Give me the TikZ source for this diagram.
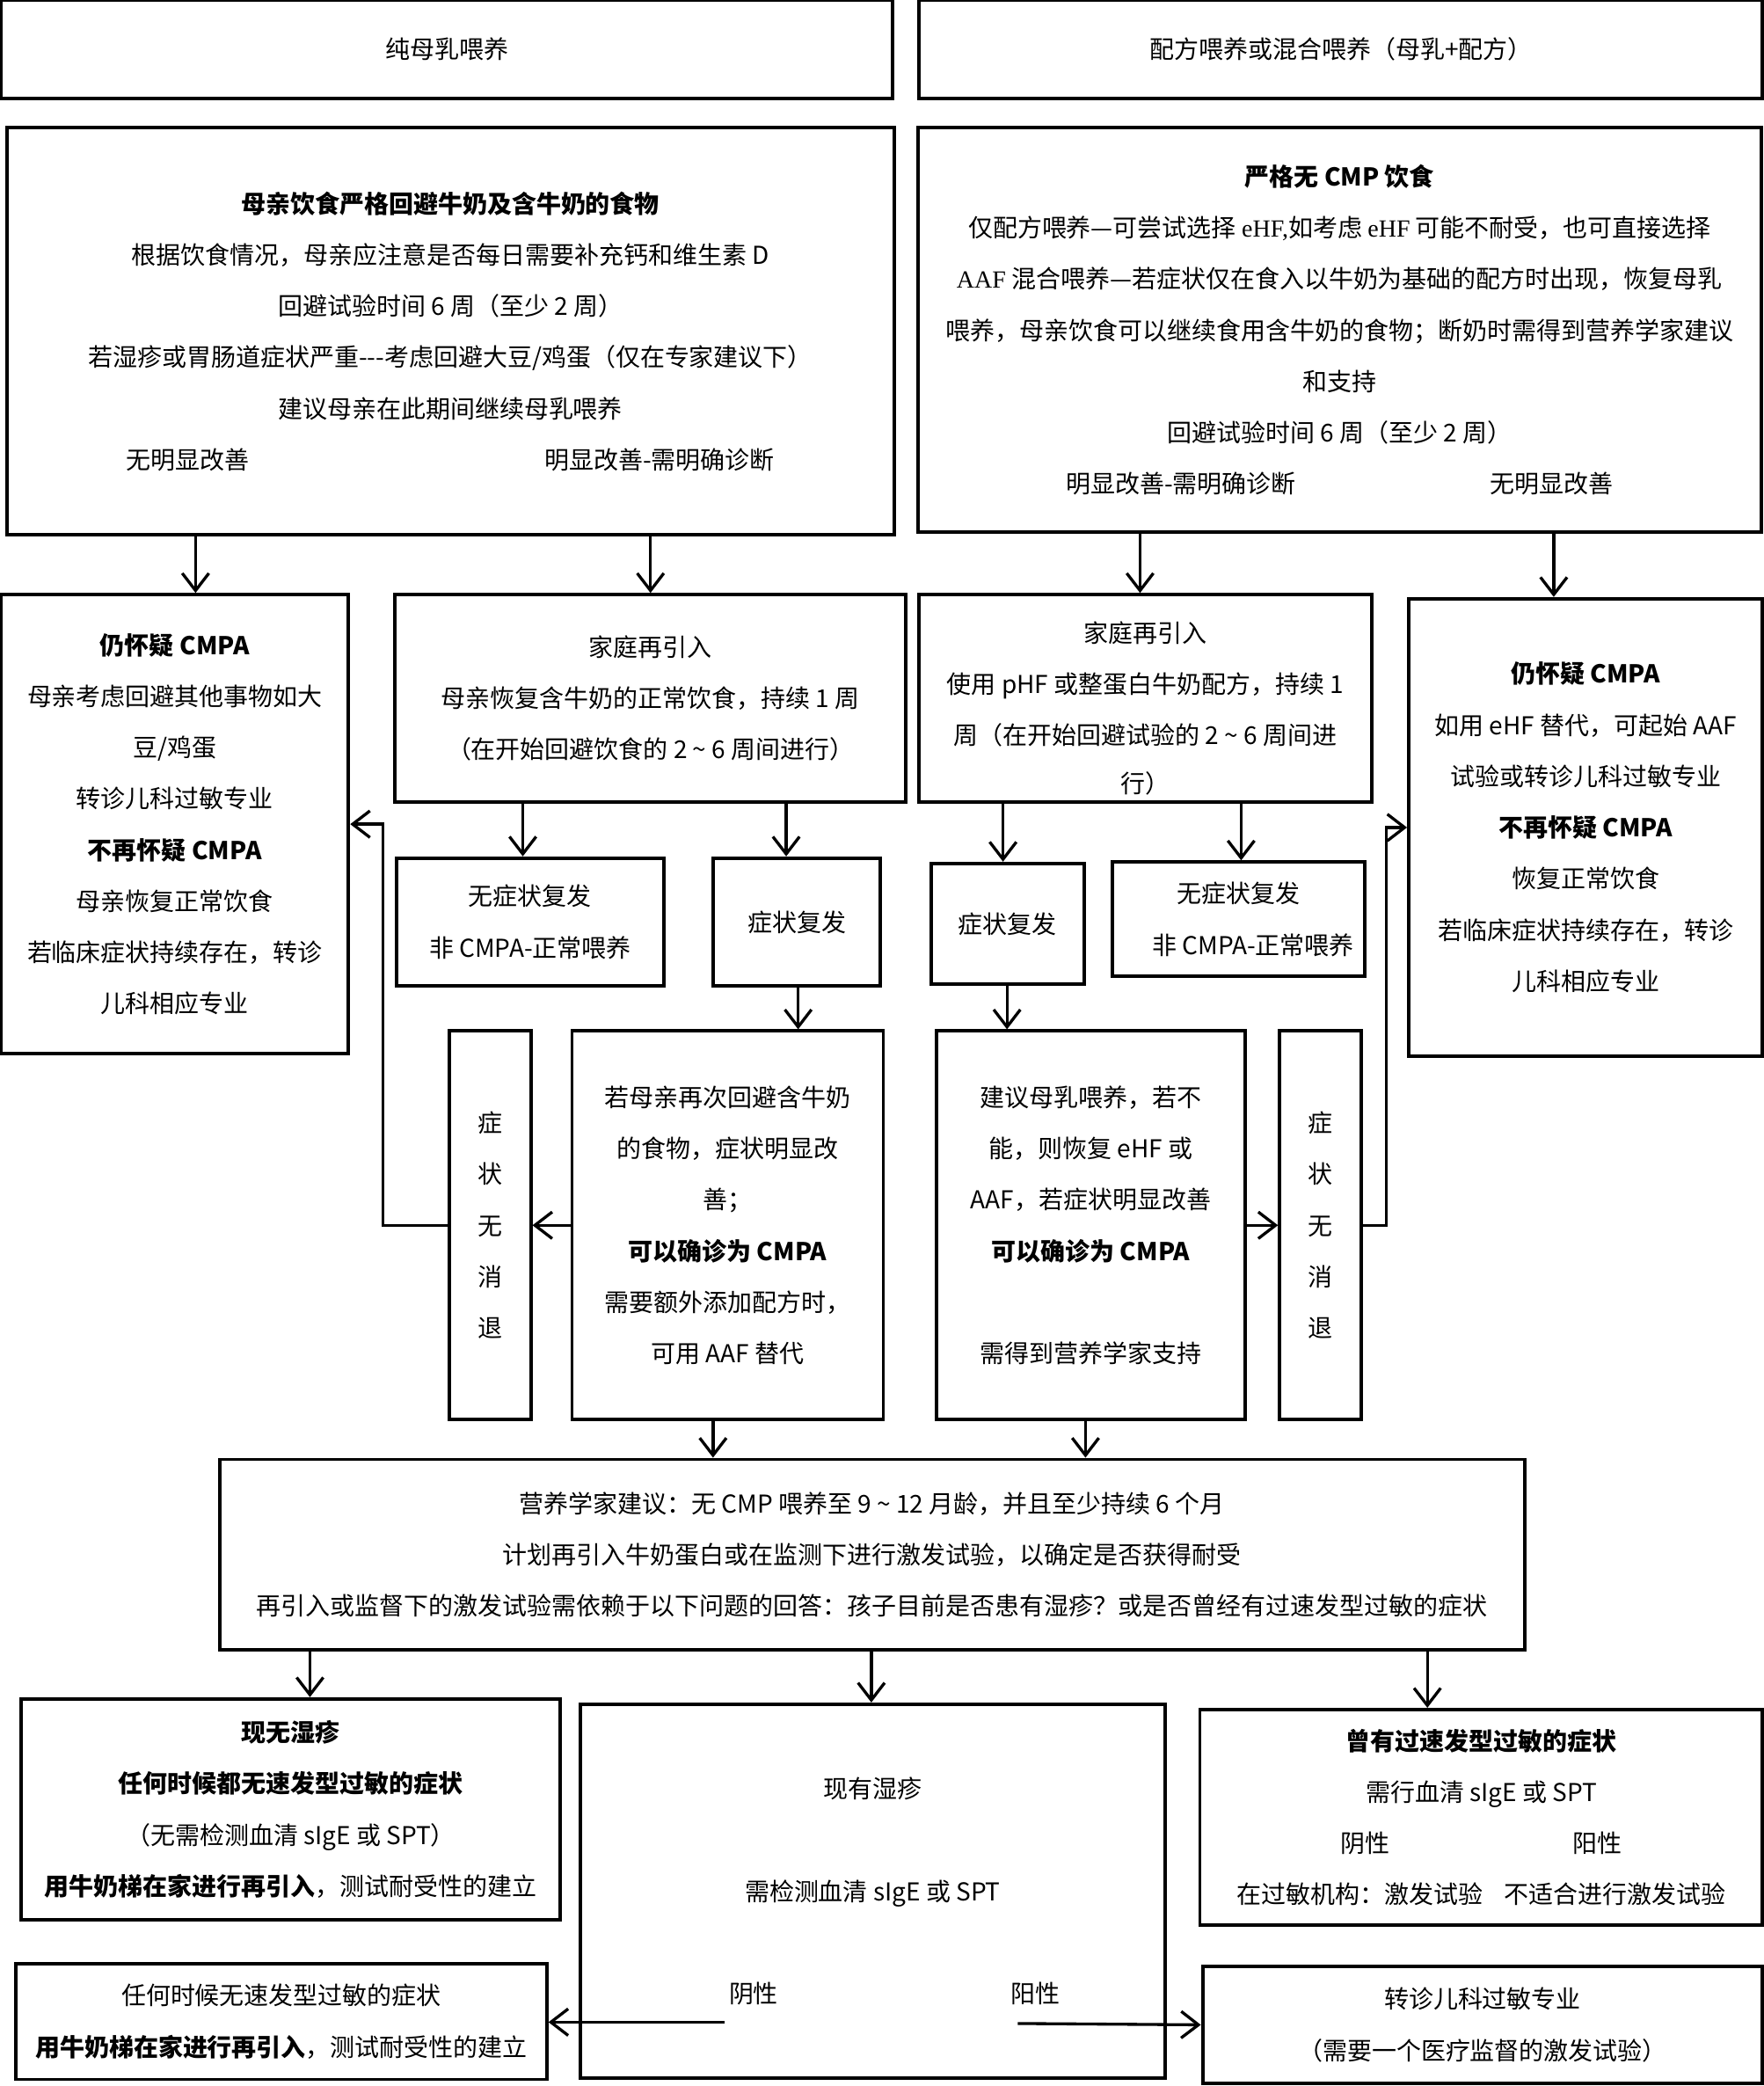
\documentclass[tikz,border=0pt]{standalone}
\usepackage{fontspec}
\setmainfont{Noto Sans CJK SC}
\newfontfamily\lserif{Liberation Serif}
\usepackage{tikz}
\usetikzlibrary{arrows.meta}

\begin{document}
\begin{tikzpicture}[x=1pt, y=-1pt]
\tikzstyle{box}=[draw, rectangle, line width=2.6pt, inner sep=0pt, align=center, font=\fontsize{18.5}{38.5}\selectfont]
\tikzstyle{arr}=[line width=2.2pt, -{Straight Barb[length=13pt, width=20pt]}]
\useasboundingbox (0,0) rectangle (1326,1568);

\node[box, minimum width=670pt, minimum height=74pt] (bfhead) at (336,37) {纯母乳喂养};
\node[box, minimum width=634pt, minimum height=74pt] (fmhead) at (1008,37) {配方喂养或混合喂养（母乳+配方）};

\node[box, minimum width=667pt, minimum height=306pt] (bfdiet) at (338.5,249) {\textbf{母亲饮食严格回避牛奶及含牛奶的食物}\\
根据饮食情况，母亲应注意是否每日需要补充钙和维生素 D\\
回避试验时间 6 周（至少 2 周）\\
若湿疹或胃肠道症状严重-{}-{}-考虑回避大豆/鸡蛋（仅在专家建议下）\\
建议母亲在此期间继续母乳喂养\\
无明显改善\hspace{222pt}明显改善-需明确诊断};
\node[box, minimum width=634pt, minimum height=304pt] (fmdiet) at (1007,248) {\textbf{严格无 CMP 饮食}\\
仅配方喂养—可尝试选择 {\lserif eHF,}如考虑 {\lserif eHF} 可能不耐受，也可直接选择\\
{\lserif AAF} 混合喂养—若症状仅在食入以牛奶为基础的配方时出现，恢复母乳\\
喂养，母亲饮食可以继续食用含牛奶的食物；断奶时需得到营养学家建议\\
和支持\\
回避试验时间 6 周（至少 2 周）\\
明显改善-需明确诊断\hspace{146pt}无明显改善};

\node[box, minimum width=261pt, minimum height=345pt] (bfstill) at (131.5,619.5) {\textbf{仍怀疑 CMPA}\\
母亲考虑回避其他事物如大\\
豆/鸡蛋\\
转诊儿科过敏专业\\
\textbf{不再怀疑 CMPA}\\
母亲恢复正常饮食\\
若临床症状持续存在，转诊\\
儿科相应专业};
\node[box, minimum width=384pt, minimum height=156pt] (bfhome) at (489,525) {家庭再引入\\
母亲恢复含牛奶的正常饮食，持续 1 周\\
（在开始回避饮食的 2 \textasciitilde{} 6 周间进行）};
\node[box, minimum width=340pt, minimum height=156pt] (fmhome) at (861,525) {\rule{0pt}{30pt}家庭再引入\\
使用 pHF 或整蛋白牛奶配方，持续 1\\
周（在开始回避试验的 2 \textasciitilde{} 6 周间进\\[-2.5pt]
行）};
\node[box, minimum width=266pt, minimum height=344pt] (fmstill) at (1192,622) {\textbf{仍怀疑 CMPA}\\
如用 eHF 替代，可起始 AAF\\
试验或转诊儿科过敏专业\\
\textbf{不再怀疑 CMPA}\\
恢复正常饮食\\
若临床症状持续存在，转诊\\
儿科相应专业};

\node[box, minimum width=201pt, minimum height=96pt] (bfnone) at (398.5,693) {无症状复发\\ 非 CMPA-正常喂养};
\node[box, minimum width=126pt, minimum height=96pt] (bfback) at (599,693) {症状复发};
\node[box, minimum width=115pt, minimum height=91pt] (fmback) at (757.5,694.5) {症状复发};
\node[box, minimum width=190pt, minimum height=86pt] (fmnone) at (931,691) {无症状复发\\ \hspace*{22pt}非 CMPA-正常喂养};

\node[box, minimum width=61pt, minimum height=292pt] (bfkeep) at (368.5,921) {症\\状\\无\\消\\退};
\node[box, minimum width=234pt, minimum height=292pt] (bfcmpa) at (547,921) {若母亲再次回避含牛奶\\
的食物，症状明显改\\
善；\\
\textbf{可以确诊为 CMPA}\\
需要额外添加配方时，\\
可用 AAF 替代};
\node[box, minimum width=232pt, minimum height=292pt] (fmcmpa) at (820,921) {建议母乳喂养，若不\\
能，则恢复 eHF 或\\
AAF，若症状明显改善\\
\textbf{可以确诊为 CMPA}\\[38.5pt]
需得到营养学家支持};
\node[box, minimum width=61pt, minimum height=292pt] (fmkeep) at (992.5,921) {症\\状\\无\\消\\退};

\node[box, minimum width=981pt, minimum height=143pt] (advice) at (655.5,1168.5) {营养学家建议：无 CMP 喂养至 9 \textasciitilde{} 12 月龄，并且至少持续 6 个月\\
计划再引入牛奶蛋白或在监测下进行激发试验，以确定是否获得耐受\\
再引入或监督下的激发试验需依赖于以下问题的回答：孩子目前是否患有湿疹？或是否曾经有过速发型过敏的症状};

\node[box, minimum width=405pt, minimum height=166pt] (noecz) at (218.5,1360) {\textbf{现无湿疹}\\
\textbf{任何时候都无速发型过敏的症状}\\
（无需检测血清 sIgE 或 SPT）\\
\textbf{用牛奶梯在家进行再引入}，测试耐受性的建立};
\node[box, minimum width=440pt, minimum height=281pt] (ecz) at (656,1421.5) {现有湿疹\\[38.5pt]
需检测血清 sIgE 或 SPT\\[38.5pt]
\hspace*{33pt}阴性\hspace{175pt}阳性};
\node[box, minimum width=423pt, minimum height=162pt] (immed) at (1113.5,1366) {\textbf{曾有过速发型过敏的症状}\\
需行血清 sIgE 或 SPT\\
阴性\hspace{138pt}阳性\\
在过敏机构：激发试验\hspace{16pt}不适合进行激发试验};
\node[box, minimum width=399pt, minimum height=87pt] (ladder) at (211.5,1519.5) {任何时候无速发型过敏的症状\\
\textbf{用牛奶梯在家进行再引入}，测试耐受性的建立};
\node[box, minimum width=421pt, minimum height=88pt] (refer) at (1114.5,1522) {转诊儿科过敏专业\\
（需要一个医疗监督的激发试验）};

\coordinate (negpt) at (545,1520);
\coordinate (pospt) at (765,1521);

\draw[arr] (bfdiet.south -| 147,0) -- (bfstill.north -| 147,0);
\draw[arr] (bfdiet.south -| bfhome.north) -- (bfhome.north);
\draw[arr] (fmdiet.south -| 857,0) -- (fmhome.north -| 857,0);
\draw[arr] (fmdiet.south -| 1168,0) -- (fmstill.north -| 1168,0);
\draw[arr] (bfhome.south -| 393,0) -- (bfnone.north -| 393,0);
\draw[arr] (bfhome.south -| 591,0) -- (bfback.north -| 591,0);
\draw[arr] (bfback.south -| 600,0) -- (bfcmpa.north -| 600,0);
\draw[arr] (fmhome.south -| 754,0) -- (fmback.north -| 754,0);
\draw[arr] (fmhome.south -| 933,0) -- (fmnone.north -| 933,0);
\draw[arr] (fmback.south -| 757,0) -- (fmcmpa.north -| 757,0);
\draw[arr] (bfcmpa.west) -- (bfkeep.east);
\draw[arr] (bfkeep.west) -- ++(-49,0) |- (bfstill.east);
\draw[arr] (fmcmpa.east) -- (fmkeep.west);
\draw[arr] (fmkeep.east) -- ++(18,0) |- (fmstill.west);
\draw[arr] (bfcmpa.south -| 536,0) -- (advice.north -| 536,0);
\draw[arr] (fmcmpa.south -| 816,0) -- (advice.north -| 816,0);
\draw[arr] (advice.south -| 233,0) -- (noecz.north -| 233,0);
\draw[arr] (advice.south -| 655,0) -- (ecz.north -| 655,0);
\draw[arr] (advice.south -| 1073,0) -- (immed.north -| 1073,0);
\draw[arr] (negpt) -- (ladder.east |- negpt);
\draw[arr] (pospt) -- (refer.west);

\end{tikzpicture}
\end{document}
